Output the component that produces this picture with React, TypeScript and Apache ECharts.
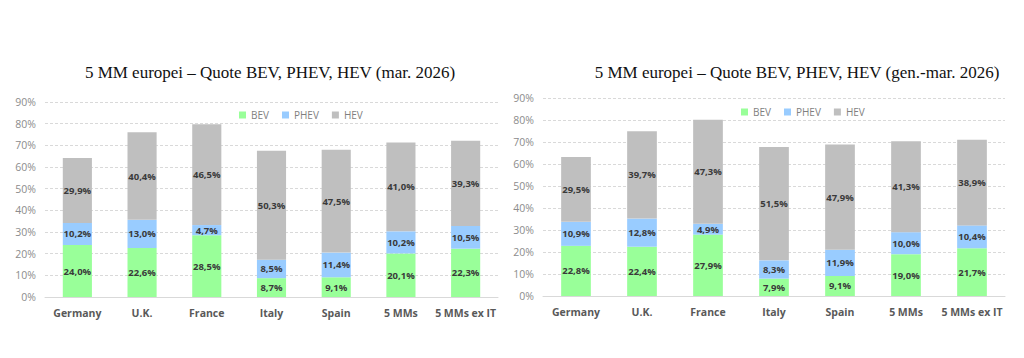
import React, { useEffect, useRef } from "react";
import * as echarts from "echarts";

const categories = ["Germany", "U.K.", "France", "Italy", "Spain", "5 MMs", "5 MMs ex IT"];
const seriesNames = ["BEV", "PHEV", "HEV"];
const yTicks = [0, 10, 20, 30, 40, 50, 60, 70, 80, 90];

const titleLeft = "5 MM europei – Quote BEV, PHEV, HEV (mar. 2026)";
const titleRight = "5 MM europei – Quote BEV, PHEV, HEV (gen.-mar. 2026)";

const bevMar = [24.0, 22.6, 28.5, 8.7, 9.1, 20.1, 22.3];
const phevMar = [10.2, 13.0, 4.7, 8.5, 11.4, 10.2, 10.5];
const hevMar = [29.9, 40.4, 46.5, 50.3, 47.5, 41.0, 39.3];

const bevYtd = [22.8, 22.4, 27.9, 7.9, 9.1, 19.0, 21.7];
const phevYtd = [10.9, 12.8, 4.9, 8.3, 11.9, 10.0, 10.4];
const hevYtd = [29.5, 39.7, 47.3, 51.5, 47.9, 41.3, 38.9];

const colors = ["#99FF99", "#99CCFF", "#BFBFBF"];
const labelFont = "Open Sans";

export default function App() {
  const ref = useRef<HTMLDivElement>(null);
  useEffect(() => {
    document.body.style.margin = "0";
    const chart = echarts.init(ref.current!, undefined, { renderer: "svg" });
    const fmt = (p: any) => p.value.toFixed(1).replace(".", ",") + "%";
    const grids = [
      { left: 45, right: 526, top: 102, bottom: 61 },
      { left: 543, right: 19, top: 98, bottom: 62 },
    ];
    const xAxes = grids.map((_, i) => ({
      type: "category",
      gridIndex: i,
      data: categories,
      axisLine: { lineStyle: { color: "#D9D9D9", width: 1 } },
      axisTick: { show: false },
      axisLabel: {
        color: "#595959",
        fontFamily: labelFont,
        fontWeight: "bold",
        fontSize: 10.5,
        margin: 10,
        interval: 0,
      },
    }));
    const yAxes = grids.map((_, i) => ({
      type: "value",
      gridIndex: i,
      min: yTicks[0],
      max: yTicks[yTicks.length - 1],
      interval: 10,
      axisLine: { show: false },
      axisTick: { show: false },
      splitLine: { lineStyle: { color: "#D9D9D9", type: [3, 2], width: 1 } },
      axisLabel: {
        color: "#8C8C8C",
        fontFamily: labelFont,
        fontSize: 10.5,
        margin: 9,
        formatter: "{value}%",
      },
    }));
    const mk = (data: number[][], idx: number) =>
      data.map((d, k) => ({
        name: seriesNames[k],
        type: "bar",
        stack: "s" + idx,
        xAxisIndex: idx,
        yAxisIndex: idx,
        barWidth: "45%",
        data: d,
        itemStyle: { color: colors[k] },
        label: {
          show: true,
          position: "inside",
          formatter: fmt,
          color: "#3A3A3A",
          fontFamily: labelFont,
          fontWeight: "bold",
          fontSize: 9.5,
        },
      }));
    const legendCommon = {
      data: seriesNames,
      itemWidth: 7,
      itemHeight: 7,
      itemGap: 13,
      icon: "rect",
      textStyle: { color: "#7F7F7F", fontFamily: labelFont, fontSize: 10 },
    };
    const titleStyle = { fontFamily: "Liberation Serif", fontWeight: "normal", fontSize: 17, color: "#111" };
    chart.setOption({
      animation: false,
      title: [
        { text: titleLeft, left: 265, top: 59, textAlign: "center", textStyle: titleStyle },
        { text: titleRight, left: 792, top: 59, textAlign: "center", textStyle: titleStyle },
      ],
      legend: [
        { ...legendCommon, left: 234, top: 105 },
        { ...legendCommon, left: 736, top: 102 },
      ],
      grid: grids,
      xAxis: xAxes,
      yAxis: yAxes,
      series: [
        ...mk([bevMar, phevMar, hevMar], 0),
        ...mk([bevYtd, phevYtd, hevYtd], 1),
      ],
    });
    return () => chart.dispose();
  }, []);
  return <div ref={ref} style={{ width: 1024, height: 358 }} />;
}
